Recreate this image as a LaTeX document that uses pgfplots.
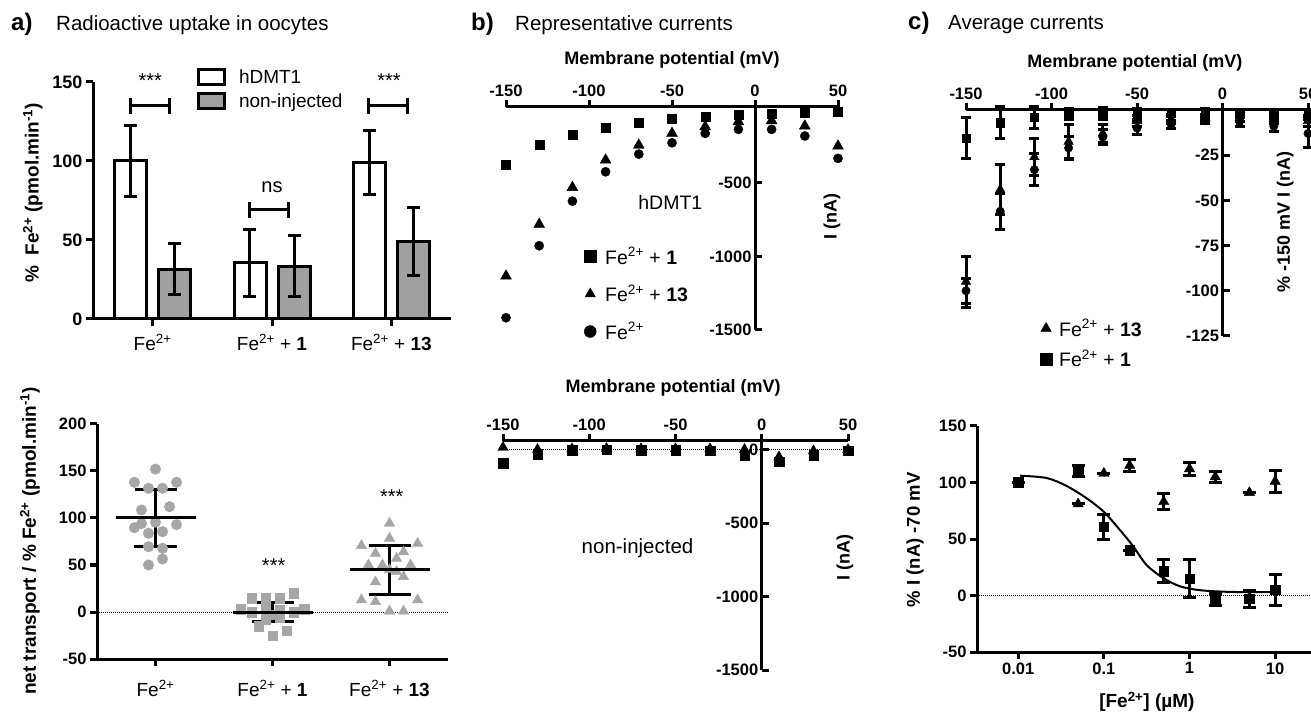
\documentclass[border=0pt]{standalone}
\usepackage{fontspec}
\setmainfont{Liberation Sans}
\usepackage{pgfplots}
\pgfplotsset{compat=1.18}
\newcommand\fs[1]{\fontsize{#1}{#1}\selectfont}
\newcommand\fe{Fe\textsuperscript{2+}}
\definecolor{bargray}{RGB}{160,160,160}
\definecolor{ptgray}{RGB}{166,166,166}
\tikzset{lab/.style={font=\fs{#1}\bfseries, anchor=center}}
\pgfplotsset{
  gp/.style={scale only axis, anchor=south west, clip=false,
    axis line style={-, line width=3pt, black},
    tick style={line width=3pt, black}, major tick length=7pt,
    /pgf/number format/assume math mode=true,
    /pgf/number format/1000 sep={},
    tick label style={font=\fs{16.5}\bfseries}},
  ebar/.style={error bars/.cd, y dir=both, y explicit,
    error bar style={line width=3pt, black},
    error mark options={rotate=90, line width=3pt, black, mark size=#1}, /pgfplots/.cd},
  bleg/.style={legend image code/.code={\draw[fill=#1, draw=black, line width=3pt] (0pt,-7pt) rectangle (26pt,8pt);}},
  mleg/.style={legend image code/.code={\draw[##1, mark size=6pt] plot coordinates {(6pt,0pt)};}},
}
\newcommand\bracket[3]{%
  \draw[line width=3pt] (axis cs:#1,#3) -- (axis cs:#2,#3);
  \draw[line width=3pt] (axis cs:#1,#3-5) -- (axis cs:#1,#3+5);
  \draw[line width=3pt] (axis cs:#2,#3-5) -- (axis cs:#2,#3+5);}
\begin{document}
\begin{tikzpicture}[x=1pt,y=1pt]
\useasboundingbox (0,0) rectangle (1311,712);

% titles
\node[anchor=base west, inner sep=0, font=\fs{24}\bfseries] at (11,681.3) {a)};
\node[anchor=base west, inner sep=0, font=\fs{20.5}] at (56,681.3) {Radioactive uptake in oocytes};
\node[anchor=base west, inner sep=0, font=\fs{24}\bfseries] at (471,681.3) {b)};
\node[anchor=base west, inner sep=0, font=\fs{20.5}] at (515,681.3) {Representative currents};
\node[anchor=base west, inner sep=0, font=\fs{24}\bfseries] at (908,682) {c)};
\node[anchor=base west, inner sep=0, font=\fs{20.5}] at (948,682) {Average currents};

% ---------- a) top: bars ----------
\begin{axis}[gp, at={(93pt,393pt)}, width=358pt, height=237pt,
  xmin=-0.5, xmax=2.5, ymin=0, ymax=150,
  axis lines*=left, tick align=outside,
  xtick={0,1,2}, xticklabels={\fe, \fe{} + \textbf{1}, \fe{} + \textbf{13}},
  ytick={0,50,100,150},
  yticklabel style={font=\fs{18}\bfseries},
  xticklabel style={font=\fs{19}\mdseries, yshift=-5pt},
  ylabel={\%\ \ \fe{} (pmol.min\textsuperscript{-1})},
  ylabel style={lab=19, at={(rel axis cs:-0.168,0.532)}},
  legend style={at={(rel axis cs:0.29,1.06)}, anchor=north west, draw=none, fill=none,
    font=\fs{19}, inner sep=0pt, row sep=6pt, nodes={inner sep=1pt},
    /tikz/every odd column/.append style={column sep=12pt}},
  legend cell align=left]
\addplot[ybar, bar width=32pt, bar shift=-22pt, fill=white, draw=black, line width=3pt, bleg=white]
  coordinates {(0,100) (1,35.5) (2,99)};
\addlegendentry{hDMT1}
\addplot[ybar, bar width=32pt, bar shift=22pt, fill=bargray, draw=black, line width=3pt, bleg=bargray]
  coordinates {(0,31.5) (1,33.5) (2,49)};
\addlegendentry{non-injected}
% error bars at the bar centres
\addplot[forget plot, draw=none, mark=none, ebar=6.5pt] coordinates {
  (-0.185,100) +- (0,22.5) (0.815,35.5) +- (0,21) (1.815,99) +- (0,20)
  (0.185,31.5) +- (0,16) (1.185,33.5) +- (0,19.5) (2.185,49) +- (0,21.5)};
\bracket{-0.185}{0.14}{135}
\bracket{0.815}{1.14}{69}
\bracket{1.81}{2.135}{135}
\node[font=\fs{20}] at (axis cs:-0.02,151) {***};
\node[font=\fs{20}] at (axis cs:1,83.5) {ns};
\node[font=\fs{20}] at (axis cs:1.98,151) {***};
\end{axis}

% ---------- a) bottom: scatter ----------
\begin{axis}[gp, at={(97pt,53pt)}, width=351pt, height=235pt,
  xmin=-0.5, xmax=2.5, ymin=-50, ymax=200,
  axis lines*=left, tick align=outside,
  xtick={0,1,2}, xticklabels={\fe, \fe{} + \textbf{1}, \fe{} + \textbf{13}},
  ytick={-50,0,50,100,150,200},
  xticklabel style={font=\fs{19}\mdseries, yshift=-11pt},
  ylabel={net transport / \% \fe{} (pmol.min\textsuperscript{-1})},
  ylabel style={lab=19, at={(rel axis cs:-0.191,0.502)}}]
\addplot[only marks, mark=*, mark size=5.3pt, color=ptgray] coordinates {
  (0,152)(-0.18,138)(0.18,138)(-0.06,131.6)(0.06,131.6)(0.12,112)(-0.12,108.5)
  (-0.18,89.7)(0.18,93)(-0.12,94)(0,95.5)(-0.06,83.7)(0.06,85.5)(-0.06,69.5)
  (0.06,67.8)(0.06,56.4)(-0.06,50)};
\addplot[only marks, mark=square*, mark size=4.7pt, color=ptgray] coordinates {
  (0.82,14.5)(0.94,14.5)(1.06,14.5)(1.18,20)(0.73,3)(1.27,3)(0.82,0)(1.18,0)
  (0.94,3)(1.06,2)(1,-3)(0.88,-15)(1.12,-20)(1,-25)(0.94,-8)(1.06,-6)};
\addplot[only marks, mark=triangle*, mark size=6pt, color=ptgray] coordinates {
  (2,94.4)(2,78.4)(1.76,70.6)(2.24,73)(1.88,62.4)(2.12,64)(2.06,57)(1.94,50)
  (1.82,50)(2.18,50)(2,45)(2.06,43)(2.12,37.6)(1.88,32)(1.76,12.8)(1.88,11)
  (2.24,12.8)(2,1)(2.12,1)};
\addplot[densely dotted, line width=1pt, black, forget plot] coordinates {(-0.5,0) (2.5,0)};
\addplot[only marks, mark=-, mark size=40pt, mark options={line width=3pt}, black, ebar=21pt]
  coordinates {(0,100) +- (0,30) (1,0) +- (0,10) (2,45) +- (0,26)};
\node[font=\fs{20}] at (axis cs:1.01,49.6) {***};
\node[font=\fs{20}] at (axis cs:2.02,122.7) {***};
\end{axis}

% ---------- b) top: hDMT1 ----------
\begin{axis}[gp, at={(506pt,382pt)}, width=332pt, height=223pt,
  xmin=-150, xmax=50, ymin=-1500, ymax=14,
  axis x line*=top, axis y line*=middle,
  xtick align=outside, ytick align=inside,
  xtick={-150,-100,-50,0,50}, ytick={-1500,-1000,-500},
  yticklabel pos=right,
  xlabel={Membrane potential (mV)}, ylabel={I (nA)},
  xlabel style={lab=18, at={(rel axis cs:0.5,1.211)}},
  ylabel style={lab=18, at={(rel axis cs:0.982,0.507)}},
  mleg,
  legend style={at={(rel axis cs:0.235,0.377)}, anchor=north west, draw=none, fill=none,
    font=\fs{19.5}, inner sep=0pt, row sep=17pt, nodes={inner sep=1pt},
    /tikz/every odd column/.append style={column sep=8pt}},
  legend cell align=left]
\addplot[only marks, mark=square*, mark size=4.5pt, black] coordinates {
  (-150,-380)(-130,-245)(-110,-176)(-90,-125)(-70,-93)(-50,-68)(-30,-52)(-10,-36)(10,-29)(30,-25)(50,-18)};
\addlegendentry{\fe{} + \textbf{1}}
\addplot[only marks, mark=triangle*, mark size=6.3pt, black] coordinates {
  (-150,-1134)(-130,-783)(-110,-532)(-90,-346)(-70,-245)(-50,-165)(-30,-120)(-10,-86)(10,-79)(30,-115)(50,-251)};
\addlegendentry{\fe{} + \textbf{13}}
\addplot[only marks, mark=*, mark size=4.6pt, black] coordinates {
  (-150,-1417)(-130,-928)(-110,-625)(-90,-426)(-70,-306)(-50,-229)(-30,-165)(-10,-138)(10,-138)(30,-183)(50,-335)};
\addlegendentry{\fe}
\node[font=\fs{19.5}] at (axis cs:-51,-631) {hDMT1};
\end{axis}

% ---------- b) bottom: non-injected ----------
\begin{axis}[gp, at={(503pt,42pt)}, width=345pt, height=229pt,
  xmin=-150, xmax=50, ymin=-1500, ymax=58,
  axis x line*=top, axis y line*=middle,
  xtick align=outside, ytick align=inside,
  xtick={-150,-100,-50,0,50}, ytick={-1500,-1000,-500,0},
  yticklabel pos=right,
  xlabel={Membrane potential (mV)}, ylabel={I (nA)},
  xlabel style={lab=18, at={(rel axis cs:0.493,1.231)}},
  ylabel style={lab=18, at={(rel axis cs:0.991,0.493)}}]
\addplot[densely dotted, line width=1pt, black] coordinates {(-150,0) (50,0)};
\addplot[only marks, mark=square*, mark size=4.8pt, black] coordinates {
  (-150,-95)(-130,-32)(-110,-5)(-90,0)(-70,-5)(-50,-5)(-30,-9)(-10,-38)(10,-84)(30,-38)(50,-9)};
\addplot[only marks, mark=triangle*, mark size=6pt, black] coordinates {
  (-150,14)(-130,0)(-110,5)(-90,7)(-70,5)(-50,5)(-30,5)(-10,0)(10,-50)(30,-9)(50,0)};
\node[font=\fs{20.5}] at (axis cs:-72,-670) {non-injected};
\end{axis}

% ---------- c) top: average currents ----------
\begin{axis}[gp, at={(966pt,376pt)}, width=342pt, height=226pt,
  xmin=-150, xmax=50, ymin=-125, ymax=0,
  axis x line*=top, axis y line*=middle,
  xtick align=outside, ytick align=inside,
  xtick={-150,-100,-50,0,50}, ytick={-125,-100,-75,-50,-25},
  yticklabel pos=right,
  xlabel={Membrane potential (mV)}, ylabel={\% -150 mV I (nA)},
  xlabel style={lab=18, at={(rel axis cs:0.494,1.208)}},
  ylabel style={lab=18, at={(rel axis cs:0.933,0.504)}},
  mleg,
  legend style={at={(rel axis cs:0.216,0.08)}, anchor=north west, draw=none, fill=none,
    font=\fs{19.5}, inner sep=0pt, row sep=10pt, nodes={inner sep=1pt},
    /tikz/every odd column/.append style={column sep=6pt}},
  legend cell align=left]
\addplot[only marks, mark=triangle*, mark size=5.5pt, black, ebar=5pt] coordinates {
  (-150,-95) +- (0,14) (-130,-44) +- (0,14) (-110,-26) +- (0,10.5) (-90,-17.5) +- (0,9.5)
  (-70,-13) +- (0,5) (-50,-6) +- (0,3) (-30,-5) +- (0,2.5) (-10,-4.5) +- (0,2)
  (10,-4.5) +- (0,2) (30,-5) +- (0,2.5) (50,-6) +- (0,3)};
\addlegendentry{\fe{} + \textbf{13}}
\addplot[only marks, mark=square*, mark size=4.2pt, black, ebar=5pt] coordinates {
  (-150,-15.7) +- (0,11.4) (-130,-7) +- (0,9) (-110,-4) +- (0,6) (-90,-2) +- (0,3)
  (-70,-2) +- (0,3.5) (-50,-2) +- (0,3) (-30,-1.5) +- (0,2) (-10,-1) +- (0,2)
  (10,-2) +- (0,2) (30,-2) +- (0,2) (50,-2) +- (0,2)};
\addlegendentry{\fe{} + \textbf{1}}
\addplot[forget plot, only marks, mark=*, mark size=4.2pt, black, ebar=5pt] coordinates {
  (-150,-100) +- (0,7) (-130,-56) +- (0,10) (-110,-33) +- (0,9) (-90,-21) +- (0,6.5)
  (-70,-15) +- (0,4) (-50,-10) +- (0,3.5) (-30,-8) +- (0,2) (-10,-6) +- (0,1.5)
  (10,-6.5) +- (0,2.5) (30,-9) +- (0,3) (50,-13) +- (0,8)};
\end{axis}

% ---------- c) bottom: concentration response ----------
\begin{axis}[gp, at={(977pt,60pt)}, width=339pt, height=226pt,
  xmode=log, xmin=0.0033, xmax=30, ymin=-50, ymax=150,
  axis lines*=left, tick align=outside, xminorticks=false,
  xtick={0.01,0.1,1,10}, xticklabels={0.01,0.1,1,10},
  ytick={-50,0,50,100,150},
  xlabel={[\fe] (\textmu M)}, ylabel={\% I (nA) -70 mV},
  xlabel style={lab=19, at={(rel axis cs:0.501,-0.221)}},
  ylabel style={lab=18.5, at={(rel axis cs:-0.183,0.496)}}]
\addplot[densely dotted, line width=1pt, black] coordinates {(0.0033,0) (30,0)};
\addplot[smooth, line width=2pt, black, no marks] coordinates {
  (0.0105,106)(0.0214,104)(0.0366,97)(0.063,86)(0.1,74)(0.154,58)(0.22,43.5)
  (0.315,27)(0.49,15.6)(0.77,8.2)(1.32,4.7)(2.95,3.2)(10,2.9)};
\addplot[only marks, mark=square*, mark size=4.8pt, black, ebar=6.5pt] coordinates {
  (0.01,100) +- (0,0) (0.05,110) +- (0,5) (0.1,61) +- (0,11) (0.2,40) +- (0,0)
  (0.5,21.5) +- (0,10) (1,15) +- (0,17) (2,-3.5) +- (0,5.5) (5,-3) +- (0,7.4)
  (10,5) +- (0,14)};
\addplot[only marks, mark=triangle*, mark size=6pt, black, ebar=6.5pt] coordinates {
  (0.05,81) +- (0,0) (0.1,108) +- (0,0) (0.2,115) +- (0,5) (0.5,83) +- (0,7)
  (1,112) +- (0,6) (2,105) +- (0,5) (5,91) +- (0,0) (10,101) +- (0,9.8)};
\end{axis}
\end{tikzpicture}
\end{document}
